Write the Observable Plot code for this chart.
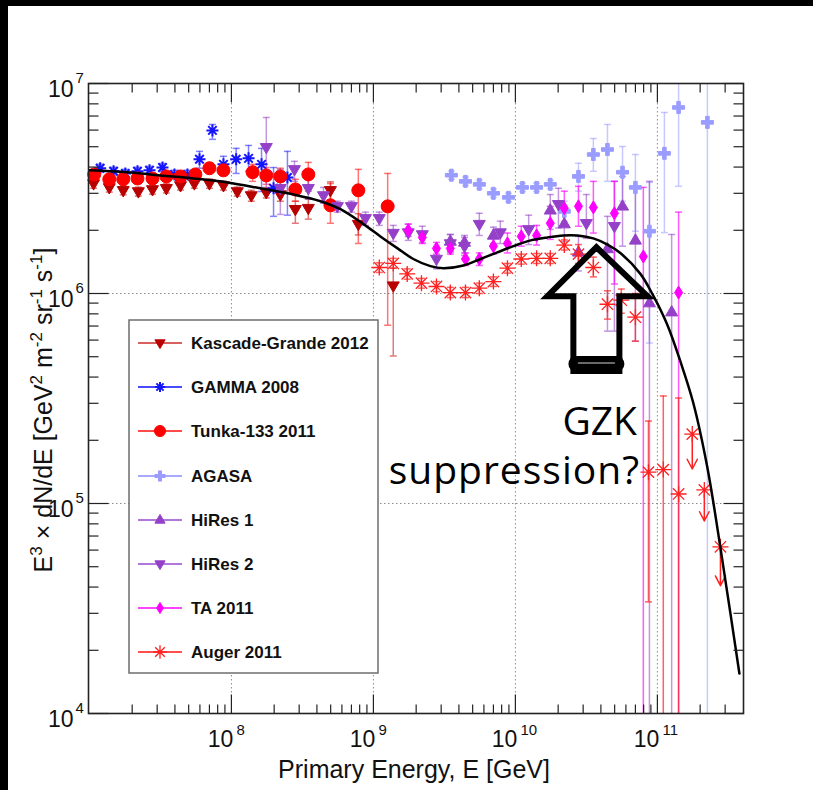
<!DOCTYPE html>
<html><head><meta charset="utf-8">
<script src="https://cdn.jsdelivr.net/npm/d3@7"></script>
<script src="https://cdn.jsdelivr.net/npm/@observablehq/plot@0.6"></script>
<style>
html,body{margin:0;padding:0;background:#fff;}
#wrap{position:relative;width:813px;height:790px;overflow:hidden;background:#fff;}
#wrap svg{position:absolute;left:0;top:0;}
.band{position:absolute;background:#000;z-index:5;}
</style></head><body>
<div id="wrap">
<div class="band" style="left:0;top:0;width:813px;height:6px"></div>
<div class="band" style="left:0;top:0;width:8px;height:790px"></div>
</div>
<script>
// ---------------- data (E in GeV, flux E^3 dN/dE) ----------------
const kgE = [1.07e7,1.38e7,1.73e7,2.21e7,2.78e7,3.48e7,4.38e7,5.48e7,7.00e7,8.79e7,1.10e8,1.38e8,1.76e8,2.21e8,2.82e8,3.48e8,4.98e8,7.83e8,1.38e9];
const kgF = [3.34e6,3.20e6,3.10e6,3.06e6,3.13e6,3.17e6,3.27e6,3.34e6,3.34e6,3.27e6,3.06e6,2.93e6,3.03e6,2.96e6,2.52e6,2.55e6,3.10e6,2.14e6,1.09e6];
const kgLo = [3.17e6,3.04e6,2.95e6,2.91e6,2.97e6,3.01e6,3.11e6,3.17e6,3.17e6,3.11e6,2.91e6,2.75e6,2.85e6,2.75e6,2.16e6,2.26e6,2.75e6,1.90e6,5.04e5];
const kgHi = [3.51e6,3.36e6,3.26e6,3.21e6,3.29e6,3.33e6,3.43e6,3.51e6,3.51e6,3.43e6,3.21e6,3.10e6,3.20e6,3.15e6,2.75e6,2.82e6,3.40e6,2.40e6,1.32e6];

const gaE = [1.19e7,1.48e7,1.79e7,2.18e7,2.65e7,3.27e7,3.97e7,4.90e7,5.96e7,7.35e7,8.79e7,1.08e8,1.32e8,1.63e8,1.98e8,2.48e8];
const gaF = [3.95e6,3.82e6,3.73e6,3.82e6,3.86e6,3.98e6,3.69e6,3.69e6,4.36e6,5.98e6,4.12e6,4.36e6,4.40e6,4.12e6,3.17e6,3.57e6];
const gaLo = [3.77e6,3.65e6,3.56e6,3.65e6,3.69e6,3.80e6,3.52e6,3.52e6,3.95e6,5.42e6,3.73e6,3.73e6,3.82e6,3.06e6,2.33e6,2.36e6];
const gaHi = [4.13e6,3.99e6,3.90e6,3.99e6,4.03e6,4.16e6,3.86e6,3.86e6,4.75e6,6.38e6,4.50e6,4.91e6,5.07e6,4.91e6,3.98e6,4.75e6];

const tuE = [1.08e7,1.38e7,1.73e7,2.18e7,2.78e7,3.48e7,4.38e7,5.57e7,7.00e7,8.79e7,1.41e8,1.76e8,2.21e8,2.82e8,3.48e8,4.98e8,7.83e8,1.26e9];
const tuF = [3.69e6,3.50e6,3.50e6,3.53e6,3.53e6,3.61e6,3.61e6,3.69e6,3.95e6,3.86e6,3.78e6,3.65e6,3.61e6,3.13e6,3.69e6,2.63e6,3.10e6,2.60e6];
const tuLo = [3.55e6,3.37e6,3.37e6,3.40e6,3.40e6,3.48e6,3.48e6,3.55e6,3.80e6,3.72e6,3.42e6,3.31e6,3.24e6,2.75e6,3.07e6,2.16e6,1.73e6,7.06e5];
const tuHi = [3.83e6,3.63e6,3.63e6,3.66e6,3.66e6,3.75e6,3.75e6,3.83e6,4.10e6,4.01e6,4.12e6,3.98e6,3.95e6,3.50e6,4.21e6,3.34e6,3.90e6,3.73e6];

const agE = [3.54e9,4.45e9,5.57e9,7.00e9,8.93e9,1.12e10,1.41e10,1.76e10,2.21e10,2.78e10,3.54e10,4.45e10,5.68e10,7.00e10,8.79e10,1.12e11,1.41e11,2.25e11];
const agF = [3.66e6,3.42e6,3.31e6,3.00e6,2.87e6,3.20e6,3.20e6,3.31e6,2.46e6,3.61e6,4.59e6,4.85e6,3.78e6,3.20e6,1.98e6,4.65e6,7.69e6,6.53e6];
const agLo = [3.50e6,3.27e6,3.16e6,2.87e6,2.74e6,3.06e6,3.06e6,3.16e6,2.21e6,3.07e6,3.82e6,3.42e6,2.75e6,1.98e6,5.81e5,1.95e6,3.24e6,1e4];
const agHi = [3.83e6,3.58e6,3.46e6,3.14e6,3.00e6,3.35e6,3.35e6,3.46e6,2.75e6,4.17e6,5.47e6,6.38e6,5.01e6,4.59e6,3.38e6,7.28e6,1e7,1e7];

const h1E = [3.48e9,4.38e9,7.00e9,1.76e10,2.21e10,2.78e10,4.45e10,5.68e10,7.00e10,8.79e10,1.26e11];
const h1F = [1.77e6,1.75e6,1.89e6,2.49e6,2.14e6,1.57e6,1.63e6,2.60e6,1.79e6,9.00e5,8.15e5];
const h1Lo = [1.59e6,1.56e6,1.73e6,2.02e6,1.77e6,1.28e6,6.62e5,1.68e6,5.93e5,1e4,1e4];
const h1Hi = [1.91e6,1.89e6,2.07e6,2.96e6,2.52e6,1.87e6,2.33e6,3.61e6,3.20e6,3.42e6,1.91e6];

const h2E = [1.76e8,2.21e8,2.78e8,3.48e8,4.45e8,5.57e8,7.00e8,8.79e8,1.10e9,1.38e9,1.76e9,2.21e9,2.78e9,3.48e9,4.38e9,5.57e9,7.83e9,1.24e10,2.01e10,3.16e10,4.98e10];
const h2F = [4.97e6,3.17e6,3.90e6,3.17e6,2.93e6,2.60e6,2.60e6,2.28e6,2.28e6,1.94e6,1.95e6,1.91e6,1.46e6,1.73e6,1.68e6,2.14e6,1.95e6,2.02e6,2.66e6,2.16e6,2.09e6];
const h2Lo = [3.07e6,2.38e6,3.42e6,2.81e6,2.69e6,2.44e6,2.44e6,2.11e6,2.11e6,1.77e6,1.79e6,1.75e6,1.31e6,1.57e6,1.52e6,1.89e6,1.73e6,1.71e6,2.05e6,1.83e6,6.62e5];
const h2Hi = [6.89e6,3.90e6,4.26e6,3.53e6,3.20e6,2.75e6,2.75e6,2.44e6,2.44e6,2.11e6,2.14e6,2.09e6,1.61e6,1.91e6,1.85e6,2.41e6,2.21e6,2.36e6,3.17e6,2.96e6,3.42e6];

const taE = [1.76e9,2.21e9,2.78e9,3.48e9,4.45e9,5.57e9,7.00e9,8.79e9,1.10e10,1.41e10,1.76e10,2.21e10,2.78e10,3.54e10,4.98e10,7.96e10,1.41e11];
const taF = [2.00e6,1.85e6,1.64e6,1.64e6,1.46e6,1.46e6,1.68e6,1.73e6,1.87e6,1.89e6,2.16e6,2.55e6,2.60e6,2.57e6,2.41e6,1.50e6,1.01e6];
const taLo = [1.87e6,1.73e6,1.54e6,1.54e6,1.36e6,1.36e6,1.54e6,1.56e6,1.68e6,1.70e6,1.81e6,2.09e6,2.09e6,1.94e6,1.11e6,1e4,1e4];
const taHi = [2.14e6,1.98e6,1.75e6,1.75e6,1.56e6,1.56e6,1.83e6,1.94e6,2.09e6,2.11e6,2.60e6,3.07e6,3.24e6,3.42e6,3.42e6,3.20e6,2.44e6];

const auE = [1.10e9,1.38e9,1.73e9,2.18e9,2.78e9,3.48e9,4.45e9,5.57e9,7.00e9,8.79e9,1.10e10,1.41e10,1.76e10,2.21e10,2.78e10,3.54e10,4.45e10,5.57e10,7.00e10,8.65e10,1.10e11,1.41e11];
const auF = [1.33e6,1.39e6,1.24e6,1.12e6,1.08e6,1.01e6,1.01e6,1.06e6,1.14e6,1.32e6,1.46e6,1.47e6,1.47e6,1.70e6,1.54e6,1.33e6,8.89e5,9.29e5,7.71e5,1.41e5,1.45e5,1.11e5];
const auLo = [1.26e6,1.32e6,1.17e6,1.06e6,1.02e6,9.56e5,9.56e5,1.00e6,1.08e6,1.25e6,1.38e6,1.39e6,1.39e6,1.61e6,1.39e6,1.20e6,7.55e5,8.05e5,5.93e5,3.40e4,1e4,1e4];
const auHi = [1.40e6,1.47e6,1.31e6,1.18e6,1.14e6,1.07e6,1.07e6,1.12e6,1.20e6,1.39e6,1.54e6,1.55e6,1.55e6,1.80e6,1.71e6,1.49e6,1.03e6,1.05e6,1.00e6,2.47e5,3.25e5,3.18e5];
// Auger upper limits
const auUlE = [1.76e11,2.14e11,2.78e11];
const auUlF = [2.14e5,1.16e5,6.22e4];
const auUlTo = [1.46e5,8.26e4,4.06e4];

// model curve
const curveE = [1.0e7,1.85e7,3.16e7,5.40e7,9.38e7,1.60e8,2.74e8,4.24e8,5.86e8,8.51e8,1.12e9,1.48e9,1.91e9,2.52e9,3.11e9,4.31e9,5.68e9,7.46e9,9.68e9,1.28e10,1.68e10,2.18e10,2.74e10,3.54e10,4.45e10,5.48e10,7.59e10,9.23e10,1.17e11,1.45e11,1.79e11,2.25e11,2.78e11,3.27e11,3.78e11];
const curveF = [3.86e6,3.78e6,3.65e6,3.53e6,3.38e6,3.17e6,2.96e6,2.75e6,2.52e6,2.14e6,1.87e6,1.64e6,1.46e6,1.35e6,1.32e6,1.36e6,1.46e6,1.57e6,1.68e6,1.79e6,1.85e6,1.89e6,1.89e6,1.83e6,1.71e6,1.56e6,1.24e6,9.93e5,7.14e5,4.76e5,3.01e5,1.48e5,6.15e4,2.99e4,1.55e4];

// GZK annotation arrow outline (data coordinates)
const gzkE = [3.72e10,2.56e10,2.56e10,1.68e10,3.72e10,8.51e10,5.40e10,5.40e10,3.72e10];
const gzkF = [4.28e5,4.28e5,9.71e5,9.71e5,1.66e6,9.71e5,9.71e5,4.28e5,4.28e5];

const seriesNames = ["Kascade-Grande 2012","GAMMA 2008","Tunka-133 2011","AGASA","HiRes 1","HiRes 2","TA 2011","Auger 2011"];
const xTickValues = [1e8,1e9,1e10,1e11];
const xTickExp = ["8","9","10","11"];
const yTickValues = [1e4,1e5,1e6,1e7];
const yTickExp = ["4","5","6","7"];

// ---------------- symbols ----------------
const mk = f => ({draw(c, size){ f(c, Math.sqrt(size/Math.PI)); }});
const triDown = mk((c,r)=>{c.moveTo(-r,-0.62*r);c.lineTo(r,-0.62*r);c.lineTo(0,1.1*r);c.closePath();});
const triUp = mk((c,r)=>{c.moveTo(-r,0.62*r);c.lineTo(r,0.62*r);c.lineTo(0,-1.1*r);c.closePath();});
const diamond = mk((c,r)=>{c.moveTo(0,-r);c.lineTo(0.62*r,0);c.lineTo(0,r);c.lineTo(-0.62*r,0);c.closePath();});
const plusFill = mk((c,r)=>{const t=0.3*r;const p=[[-t,-r],[t,-r],[t,-t],[r,-t],[r,t],[t,t],[t,r],[-t,r],[-t,t],[-r,t],[-r,-t],[-t,-t]];c.moveTo(p[0][0],p[0][1]);p.slice(1).forEach(q=>c.lineTo(q[0],q[1]));c.closePath();});
const star = mk((c,r)=>{const d=0.707*r;c.moveTo(-r,0);c.lineTo(r,0);c.moveTo(0,-r);c.lineTo(0,r);c.moveTo(-d,-d);c.lineTo(d,d);c.moveTo(-d,d);c.lineTo(d,-d);});
const circ = mk((c,r)=>{c.moveTo(r,0);c.arc(0,0,r,0,2*Math.PI);c.closePath();});
const cap = mk((c,r)=>{c.moveTo(-r,0);c.lineTo(r,0);});
const tUp = mk((c,r)=>{c.moveTo(0,0);c.lineTo(0,-r);});
const tDown = mk((c,r)=>{c.moveTo(0,0);c.lineTo(0,r);});
const tRight = mk((c,r)=>{c.moveTo(0,0);c.lineTo(r,0);});
const tLeft = mk((c,r)=>{c.moveTo(0,0);c.lineTo(-r,0);});

// ---------------- styles ----------------
const styleList = [
  {color:"#b80000", bar:"#cc2020", op:0.6, sym:triDown, r:6, fill:true, sw:1, leg:"#d96060"},
  {color:"#1414ff", bar:"#3030ff", op:0.6, sym:star, r:6, fill:false, sw:2, leg:"#4a4aff"},
  {color:"#ff0000", bar:"#ff1a1a", op:0.6, sym:circ, r:6.5, fill:true, sw:1, leg:"#ff4a4a"},
  {color:"#9a9cff", bar:"#9a9cff", op:0.55, sym:plusFill, r:6, fill:true, sw:1, leg:"#a8aaff"},
  {color:"#9440c8", bar:"#9440c8", op:0.55, sym:triUp, r:6, fill:true, sw:1, leg:"#b277dd"},
  {color:"#9440c8", bar:"#9440c8", op:0.55, sym:triDown, r:6, fill:true, sw:1, leg:"#b277dd"},
  {color:"#ff00ff", bar:"#ff00ff", op:0.65, sym:diamond, r:6.5, fill:true, sw:1, leg:"#ff44ff"},
  {color:"#ff2020", bar:"#ff2020", op:0.7, sym:star, r:8, fill:false, sw:1.3, leg:"#ff5050"}
];

const raw = [[kgE,kgF,kgLo,kgHi],[gaE,gaF,gaLo,gaHi],[tuE,tuF,tuLo,tuHi],[agE,agF,agLo,agHi],[h1E,h1F,h1Lo,h1Hi],[h2E,h2F,h2Lo,h2Hi],[taE,taF,taLo,taHi],[auE,auF,auLo,auHi]];
const series = raw.map(([E,F,lo,hi],k)=>({name:seriesNames[k], rows:E.map((e,i)=>({E:e,F:F[i],lo:lo[i],hi:hi[i]}))}));

const X0 = 9.85e6, X1 = 4.04e11, Y0 = 1e4, Y1 = 1e7;
const marks = [];
// grid
marks.push(Plot.ruleX(xTickValues, {stroke:"#8a8a8a", strokeWidth:1, strokeDasharray:"1.5,2.5"}));
marks.push(Plot.ruleY([1e5,1e6], {stroke:"#8a8a8a", strokeWidth:1, strokeDasharray:"1.5,2.5"}));
// error bars
series.forEach((s,k)=>{
  const st = styleList[k];
  marks.push(Plot.ruleX(s.rows, {x:"E", y1:"lo", y2:"hi", stroke:st.bar, strokeOpacity:st.op, strokeWidth:1.5, clip:true}));
  marks.push(Plot.dot(s.rows.filter(d=>d.lo>Y0), {x:"E", y:"lo", symbol:cap, r:3.5, stroke:st.bar, strokeOpacity:st.op, strokeWidth:1.5, fill:"none"}));
  marks.push(Plot.dot(s.rows.filter(d=>d.hi<Y1), {x:"E", y:"hi", symbol:cap, r:3.5, stroke:st.bar, strokeOpacity:st.op, strokeWidth:1.5, fill:"none"}));
});
// markers
series.forEach((s,k)=>{
  const st = styleList[k];
  marks.push(Plot.dot(s.rows, {x:"E", y:"F", symbol:st.sym, r:st.r, fill: st.fill ? st.color : "none", stroke: st.color, strokeWidth: st.sw}));
});
// Auger upper limits
const ulRows = auUlE.map((e,i)=>({E:e, F:auUlF[i], to:auUlTo[i]}));
marks.push(Plot.arrow(ulRows, {x1:"E", y1:"F", x2:"E", y2:"to", stroke:"#ff2020", strokeWidth:1.5, headLength:11, headAngle:55}));
marks.push(Plot.dot(ulRows, {x:"E", y:"F", symbol:star, r:8, stroke:"#ff2020", strokeWidth:1.3, fill:"none"}));
// model curve
marks.push(Plot.line(curveE.map((e,i)=>({E:e,F:curveF[i]})), {x:"E", y:"F", stroke:"#000", strokeWidth:2.5, curve:"catmull-rom", clip:true}));
// GZK arrow
marks.push(Plot.line(gzkE.map((e,i)=>({E:e,F:gzkF[i]})), {x:"E", y:"F", stroke:"#000", strokeWidth:6, strokeLinejoin:"miter", strokeLinecap:"square", strokeMiterlimit:10}));
marks.push(Plot.line([{E:2.69e10,F:4.62e5},{E:5.14e10,F:4.62e5}], {x:"E", y:"F", stroke:"#000", strokeWidth:16}));
marks.push(Plot.line([{E:2.78e10,F:4.67e5},{E:4.98e10,F:4.67e5}], {x:"E", y:"F", stroke:"#8c8c8c", strokeWidth:1.5}));
// ticks (inside frame, all four sides)
const mult = [2,3,4,5,6,7,8,9];
const xMinor = [1e7,1e8,1e9,1e10,1e11].flatMap(d=>mult.map(m=>m*d)).filter(v=>v>X0*1.01 && v<X1*0.99);
const yMinor = [1e4,1e5,1e6].flatMap(d=>mult.map(m=>m*d));
const tk = {stroke:"#222", strokeWidth:1.2, fill:"none"};
marks.push(Plot.dot(xMinor.map(v=>({x:v,y:Y0})), {x:"x", y:"y", symbol:tUp, r:9, ...tk}));
marks.push(Plot.dot(xTickValues.map(v=>({x:v,y:Y0})), {x:"x", y:"y", symbol:tUp, r:19, ...tk}));
marks.push(Plot.dot(xMinor.map(v=>({x:v,y:Y1})), {x:"x", y:"y", symbol:tDown, r:9, ...tk}));
marks.push(Plot.dot(xTickValues.map(v=>({x:v,y:Y1})), {x:"x", y:"y", symbol:tDown, r:19, ...tk}));
marks.push(Plot.dot(yMinor.map(v=>({x:X0,y:v})), {x:"x", y:"y", symbol:tRight, r:10, ...tk}));
marks.push(Plot.dot(yTickValues.map(v=>({x:X0,y:v})), {x:"x", y:"y", symbol:tRight, r:20, ...tk}));
marks.push(Plot.dot(yMinor.map(v=>({x:X1,y:v})), {x:"x", y:"y", symbol:tLeft, r:10, ...tk}));
marks.push(Plot.dot(yTickValues.map(v=>({x:X1,y:v})), {x:"x", y:"y", symbol:tLeft, r:20, ...tk}));
// tick labels
const FONT = "Liberation Sans, Arial, Helvetica, sans-serif";
const xLab = xTickValues.map((v,i)=>({x:v, y:Y0, e:xTickExp[i]}));
const yLab = yTickValues.map((v,i)=>({x:X0, y:v, e:yTickExp[i]}));
marks.push(Plot.text(xLab, {x:"x", y:"y", text:()=>"10", fontSize:23, fontFamily:FONT, textAnchor:"end", dx:2, dy:26, fill:"#111"}));
marks.push(Plot.text(xLab, {x:"x", y:"y", text:"e", fontSize:15, fontFamily:FONT, textAnchor:"start", dx:5, dy:17, fill:"#111"}));
marks.push(Plot.text(yLab, {x:"x", y:"y", text:()=>"10", fontSize:23, fontFamily:FONT, textAnchor:"end", dx:-15, dy:6, fill:"#111"}));
marks.push(Plot.text(yLab, {x:"x", y:"y", text:"e", fontSize:15, fontFamily:FONT, textAnchor:"start", dx:-13, dy:-5, fill:"#111"}));
marks.push(Plot.frame({stroke:"#222", strokeWidth:1.6}));

const chart = Plot.plot({
  width: 813, height: 790,
  marginLeft: 88, marginRight: 70, marginTop: 83, marginBottom: 77,
  x: {type:"log", domain:[X0, X1], axis:null},
  y: {type:"log", domain:[Y0, Y1], axis:null},
  style: {background:"#fff", overflow:"visible"},
  marks
});
document.getElementById("wrap").appendChild(chart);

// ---------------- annotations (titles, legend, GZK text) ----------------
const svg = d3.select(chart);
// x title
svg.append("text").attr("x",414).attr("y",778).attr("text-anchor","middle")
  .attr("font-family",FONT).attr("font-size",25).attr("fill","#111").text("Primary Energy, E [GeV]");
// y title with superscripts
const yt = svg.append("text").attr("transform","translate(52,410) rotate(-90)").attr("text-anchor","middle")
  .attr("font-family",FONT).attr("font-size",25).attr("fill","#111");
const parts = [["E",0],["3",1],[" \u00d7 dN/dE [GeV",0],["2",1],[" m",0],["-2",1],[" sr",0],["-1",1],[" s",0],["-1",1],["]",0]];
let up = false;
parts.forEach(([t,sup])=>{
  const ts = yt.append("tspan").text(t);
  if (sup && !up) { ts.attr("dy",-10).attr("font-size",17); up = true; }
  else if (sup) { ts.attr("font-size",17); }
  else if (up) { ts.attr("dy",10); up = false; }
});
// legend
const leg = svg.append("g").attr("text-anchor","start");
leg.append("rect").attr("x",129).attr("y",320).attr("width",249).attr("height",353)
  .attr("fill","#fff").attr("stroke","#6e6e6e").attr("stroke-width",1.5);
const rowY = [343,387,431,476,520,564,608,652];
seriesNames.forEach((name,i)=>{
  const st = styleList[i], cy = rowY[i];
  leg.append("line").attr("x1",138).attr("x2",182).attr("y1",cy).attr("y2",cy).attr("stroke",st.leg).attr("stroke-width",2);
  const r = st.r*0.85;
  leg.append("path").attr("d", d3.symbol().type(st.sym).size(Math.PI*r*r)()).attr("transform",`translate(160,${cy})`)
    .attr("fill", st.fill ? st.color : "none").attr("stroke", st.color).attr("stroke-width", st.sw);
  leg.append("text").attr("x",191).attr("y",cy+6).attr("text-anchor","start").attr("font-family",FONT).attr("font-weight","bold")
    .attr("font-size",17).attr("fill","#111").text(name);
});
// GZK text
const GF = "Open Sans, Noto Sans, sans-serif";
svg.append("text").attr("x",637).attr("y",435).attr("text-anchor","end").attr("font-family",GF).attr("font-size",39).attr("fill","#000").text("GZK");
svg.append("text").attr("x",640).attr("y",484).attr("text-anchor","end").attr("font-family",GF).attr("font-size",39).attr("letter-spacing","1px").attr("fill","#000").text("suppression?");
</script>
</body></html>
